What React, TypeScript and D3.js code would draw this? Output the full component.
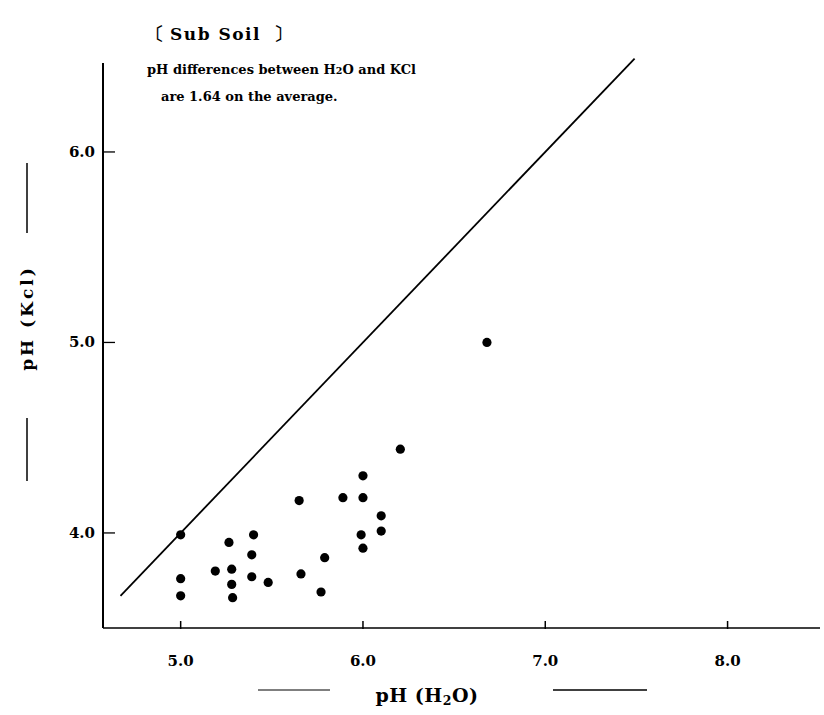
import React from "react";
import * as d3 from "d3";

const phH2O = [5.0, 5.0, 5.0, 5.19, 5.265, 5.28, 5.28, 5.285, 5.4, 5.39, 5.39, 5.48, 5.66, 5.65, 5.79, 5.77, 5.99, 6.0, 6.1, 6.1, 5.89, 6.0, 6.0, 6.205, 6.68];
const phKCl = [3.99, 3.76, 3.67, 3.8, 3.95, 3.81, 3.73, 3.66, 3.99, 3.885, 3.77, 3.74, 3.785, 4.17, 3.87, 3.69, 3.99, 3.92, 4.09, 4.01, 4.185, 4.185, 4.3, 4.44, 5.0];
const xTicks = [5.0, 6.0, 7.0, 8.0];
const yTicks = [4.0, 5.0, 6.0];
const lineX = [4.67, 7.49];
const lineOffset = 1.0;

const W = 824;
const H = 715;
const SERIF = "'DejaVu Serif', 'Liberation Serif', serif";
const TIMES = "'Liberation Serif', serif";

export default function App() {
  const x = d3.scaleLinear().domain([4.574, 8.507]).range([103, 820]);
  const y = d3.scaleLinear().domain([3.501, 6.467]).range([628, 63]);
  const line = d3
    .line<number>()
    .x((d) => x(d))
    .y((d) => y(d - lineOffset));
  const pts = phH2O.map((v, i) => ({ h: v, k: phKCl[i] }));

  return (
    <svg
      width={W}
      height={H}
      style={{ position: "absolute", left: 0, top: 0, background: "#fff" }}
      fontFamily={SERIF}
    >
      <rect x={0} y={0} width={W} height={H} fill="#fff" />
      {/* axes */}
      <line x1={103} y1={y.range()[1]} x2={103} y2={628} stroke="#000" strokeWidth={2} />
      <line x1={103} y1={628} x2={820} y2={628} stroke="#000" strokeWidth={1.6} />
      {yTicks.map((t) => (
        <g key={"y" + t}>
          <line x1={103} x2={115} y1={y(t)} y2={y(t)} stroke="#000" strokeWidth={1.3} />
          <text x={95} y={y(t) + 5} textAnchor="end" fontSize={15} fontWeight="bold">
            {t.toFixed(1)}
          </text>
        </g>
      ))}
      {xTicks.map((t) => (
        <g key={"x" + t}>
          <line x1={x(t)} x2={x(t)} y1={621} y2={629} stroke="#000" strokeWidth={1.5} />
          <text x={x(t)} y={666} textAnchor="middle" fontSize={15} fontWeight="bold">
            {t.toFixed(1)}
          </text>
        </g>
      ))}
      {/* reference line */}
      <path d={line(lineX) || ""} fill="none" stroke="#000" strokeWidth={1.8} />
      {/* points */}
      {pts.map((p, i) => (
        <circle key={i} cx={x(p.h)} cy={y(p.k)} r={4.6} fill="#000" />
      ))}
      {/* title texts */}
      <text x={146} y={40} fontSize={18} fontFamily={TIMES} fontWeight="bold">〔</text>
      <text x={170} y={40} fontSize={17} fontWeight="bold" letterSpacing={1.5}>
        Sub Soil
      </text>
      <text x={274} y={40} fontSize={18} fontFamily={TIMES} fontWeight="bold">〕</text>
      <text x={147} y={74} fontSize={13} fontWeight="bold">
        pH differences between H<tspan fontSize={9.5}>2</tspan>O and KCl
      </text>
      <text x={161} y={101} fontSize={13} fontWeight="bold">
        are 1.64 on the average.
      </text>
      {/* y label */}
      <line x1={27} x2={27} y1={163} y2={233} stroke="#000" strokeWidth={1.5} />
      <line x1={27} x2={27} y1={418} y2={481} stroke="#000" strokeWidth={1.5} />
      <text
        transform={`translate(33, 318) rotate(-90)`}
        textAnchor="middle"
        fontSize={17}
        fontWeight="bold"
        letterSpacing={3}
      >
        pH  (Kcl)
      </text>
      {/* x label */}
      <line x1={258} x2={330} y1={690} y2={690} stroke="#000" strokeWidth={1.2} />
      <line x1={553} x2={647} y1={690} y2={690} stroke="#000" strokeWidth={1.5} />
      <text x={427} y={702} textAnchor="middle" fontSize={19} fontWeight="bold" letterSpacing={0.5}>
        pH  (H<tspan fontSize={12.5} dy={3}>2</tspan>
        <tspan dy={-3}>O)</tspan>
      </text>
    </svg>
  );
}
